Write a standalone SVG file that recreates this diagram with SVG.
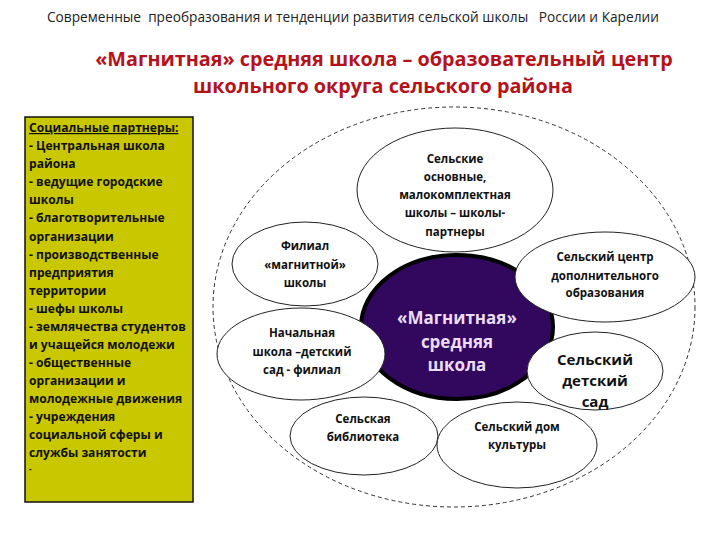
<svg xmlns="http://www.w3.org/2000/svg" width="720" height="540" viewBox="0 0 720 540">
<style>
.hdr{font-family:"Open Sans","Liberation Sans",sans-serif;font-size:13.7px;fill:#222;white-space:pre}
.ttl{font-family:"Open Sans","Liberation Sans",sans-serif;font-size:19.8px;font-weight:bold;fill:#b5121b;text-anchor:middle}
.side{font-family:"Open Sans","Liberation Sans",sans-serif;font-size:12.1px;font-weight:bold;fill:#111}
.n{font-family:"Open Sans","Liberation Sans",sans-serif;font-size:11.5px;font-weight:bold;fill:#111;text-anchor:middle}
.big{font-size:15px}
.ctr{font-family:"Open Sans","Liberation Sans",sans-serif;font-size:17px;font-weight:bold;fill:#ecdcf5;text-anchor:middle}
.el{fill:#fff;stroke:#222;stroke-width:1}
</style>
<rect width="720" height="540" fill="#fff"/>
<text class="hdr" x="47" y="22" xml:space="preserve">Современные  преобразования и тенденции развития сельской школы   России и Карелии</text>
<text class="ttl" x="384" y="66">«Магнитная» средняя школа – образовательный центр</text>
<text class="ttl" x="383" y="93">школьного округа сельского района</text>

<g id="partners">
<rect x="25" y="117" width="168" height="385" fill="#c9c700" stroke="#111" stroke-width="1.5"/>
<text class="side" x="29" y="132" text-decoration="underline">Социальные партнеры:</text>
<text class="side" x="29" y="150">- Центральная школа</text>
<text class="side" x="29" y="168">района</text>
<text class="side" x="29" y="186">- ведущие городские</text>
<text class="side" x="29" y="204">школы</text>
<text class="side" x="29" y="222">- благотворительные</text>
<text class="side" x="29" y="241">организации</text>
<text class="side" x="29" y="259">- производственные</text>
<text class="side" x="29" y="277">предприятия</text>
<text class="side" x="29" y="295">территории</text>
<text class="side" x="29" y="313">- шефы школы</text>
<text class="side" x="29" y="331">- землячества студентов</text>
<text class="side" x="29" y="349">и учащейся молодежи</text>
<text class="side" x="29" y="367">- общественные</text>
<text class="side" x="29" y="385">организации и</text>
<text class="side" x="29" y="403">молодежные движения</text>
<text class="side" x="29" y="421">- учреждения</text>
<text class="side" x="29" y="439">социальной сферы и</text>
<text class="side" x="29" y="457">службы занятости</text>
<text class="side" x="29" y="472" style="font-size:8px">-</text>
</g>

<g id="district">
<ellipse cx="454" cy="307" rx="241" ry="200" fill="none" stroke="#333" stroke-width="1" stroke-dasharray="4,3"/>
</g>

<g id="magnet">
<ellipse cx="457" cy="327" rx="96" ry="72" fill="#32075e" stroke="#000" stroke-width="4"/>
</g>

<g id="rural-schools">
<ellipse class="el" cx="455" cy="190" rx="98" ry="62"/>
<text class="n" x="455" y="163">Сельские</text>
<text class="n" x="455" y="181">основные,</text>
<text class="n" x="455" y="199">малокомплектная</text>
<text class="n" x="455" y="217">школы – школы-</text>
<text class="n" x="455" y="236">партнеры</text>
</g>

<g id="branch">
<ellipse class="el" cx="305" cy="264" rx="73" ry="42"/>
<text class="n" x="305" y="250">Филиал</text>
<text class="n" x="305" y="269">«магнитной»</text>
<text class="n" x="305" y="287">школы</text>
</g>

<g id="extra-edu">
<ellipse class="el" cx="605" cy="277" rx="90" ry="45"/>
<text class="n" x="605" y="261">Сельский центр</text>
<text class="n" x="605" y="280">дополнительного</text>
<text class="n" x="605" y="297">образования</text>
</g>

<g id="primary">
<ellipse class="el" cx="301" cy="354" rx="84" ry="46"/>
<text class="n" x="302" y="337">Начальная</text>
<text class="n" x="302" y="356">школа –детский</text>
<text class="n" x="302" y="374">сад - филиал</text>
</g>

<g id="kindergarten">
<ellipse class="el" cx="595" cy="371" rx="68" ry="39"/>
<text class="n big" x="595" y="365">Сельский</text>
<text class="n big" x="595" y="386">детский</text>
<text class="n big" x="595" y="407">сад</text>
</g>

<g id="library">
<ellipse class="el" cx="364" cy="436" rx="74" ry="39"/>
<text class="n" x="363" y="423">Сельская</text>
<text class="n" x="363" y="441">библиотека</text>
</g>

<g id="culture">
<ellipse class="el" cx="517" cy="445" rx="80" ry="43"/>
<text class="n" x="517" y="431">Сельский дом</text>
<text class="n" x="517" y="449">культуры</text>
</g>

<g id="magnet-label">
<text class="ctr" x="457" y="324">«Магнитная»</text>
<text class="ctr" x="457" y="348">средняя</text>
<text class="ctr" x="457" y="371">школа</text>
</g>

<g id="connectors"></g>
</svg>
